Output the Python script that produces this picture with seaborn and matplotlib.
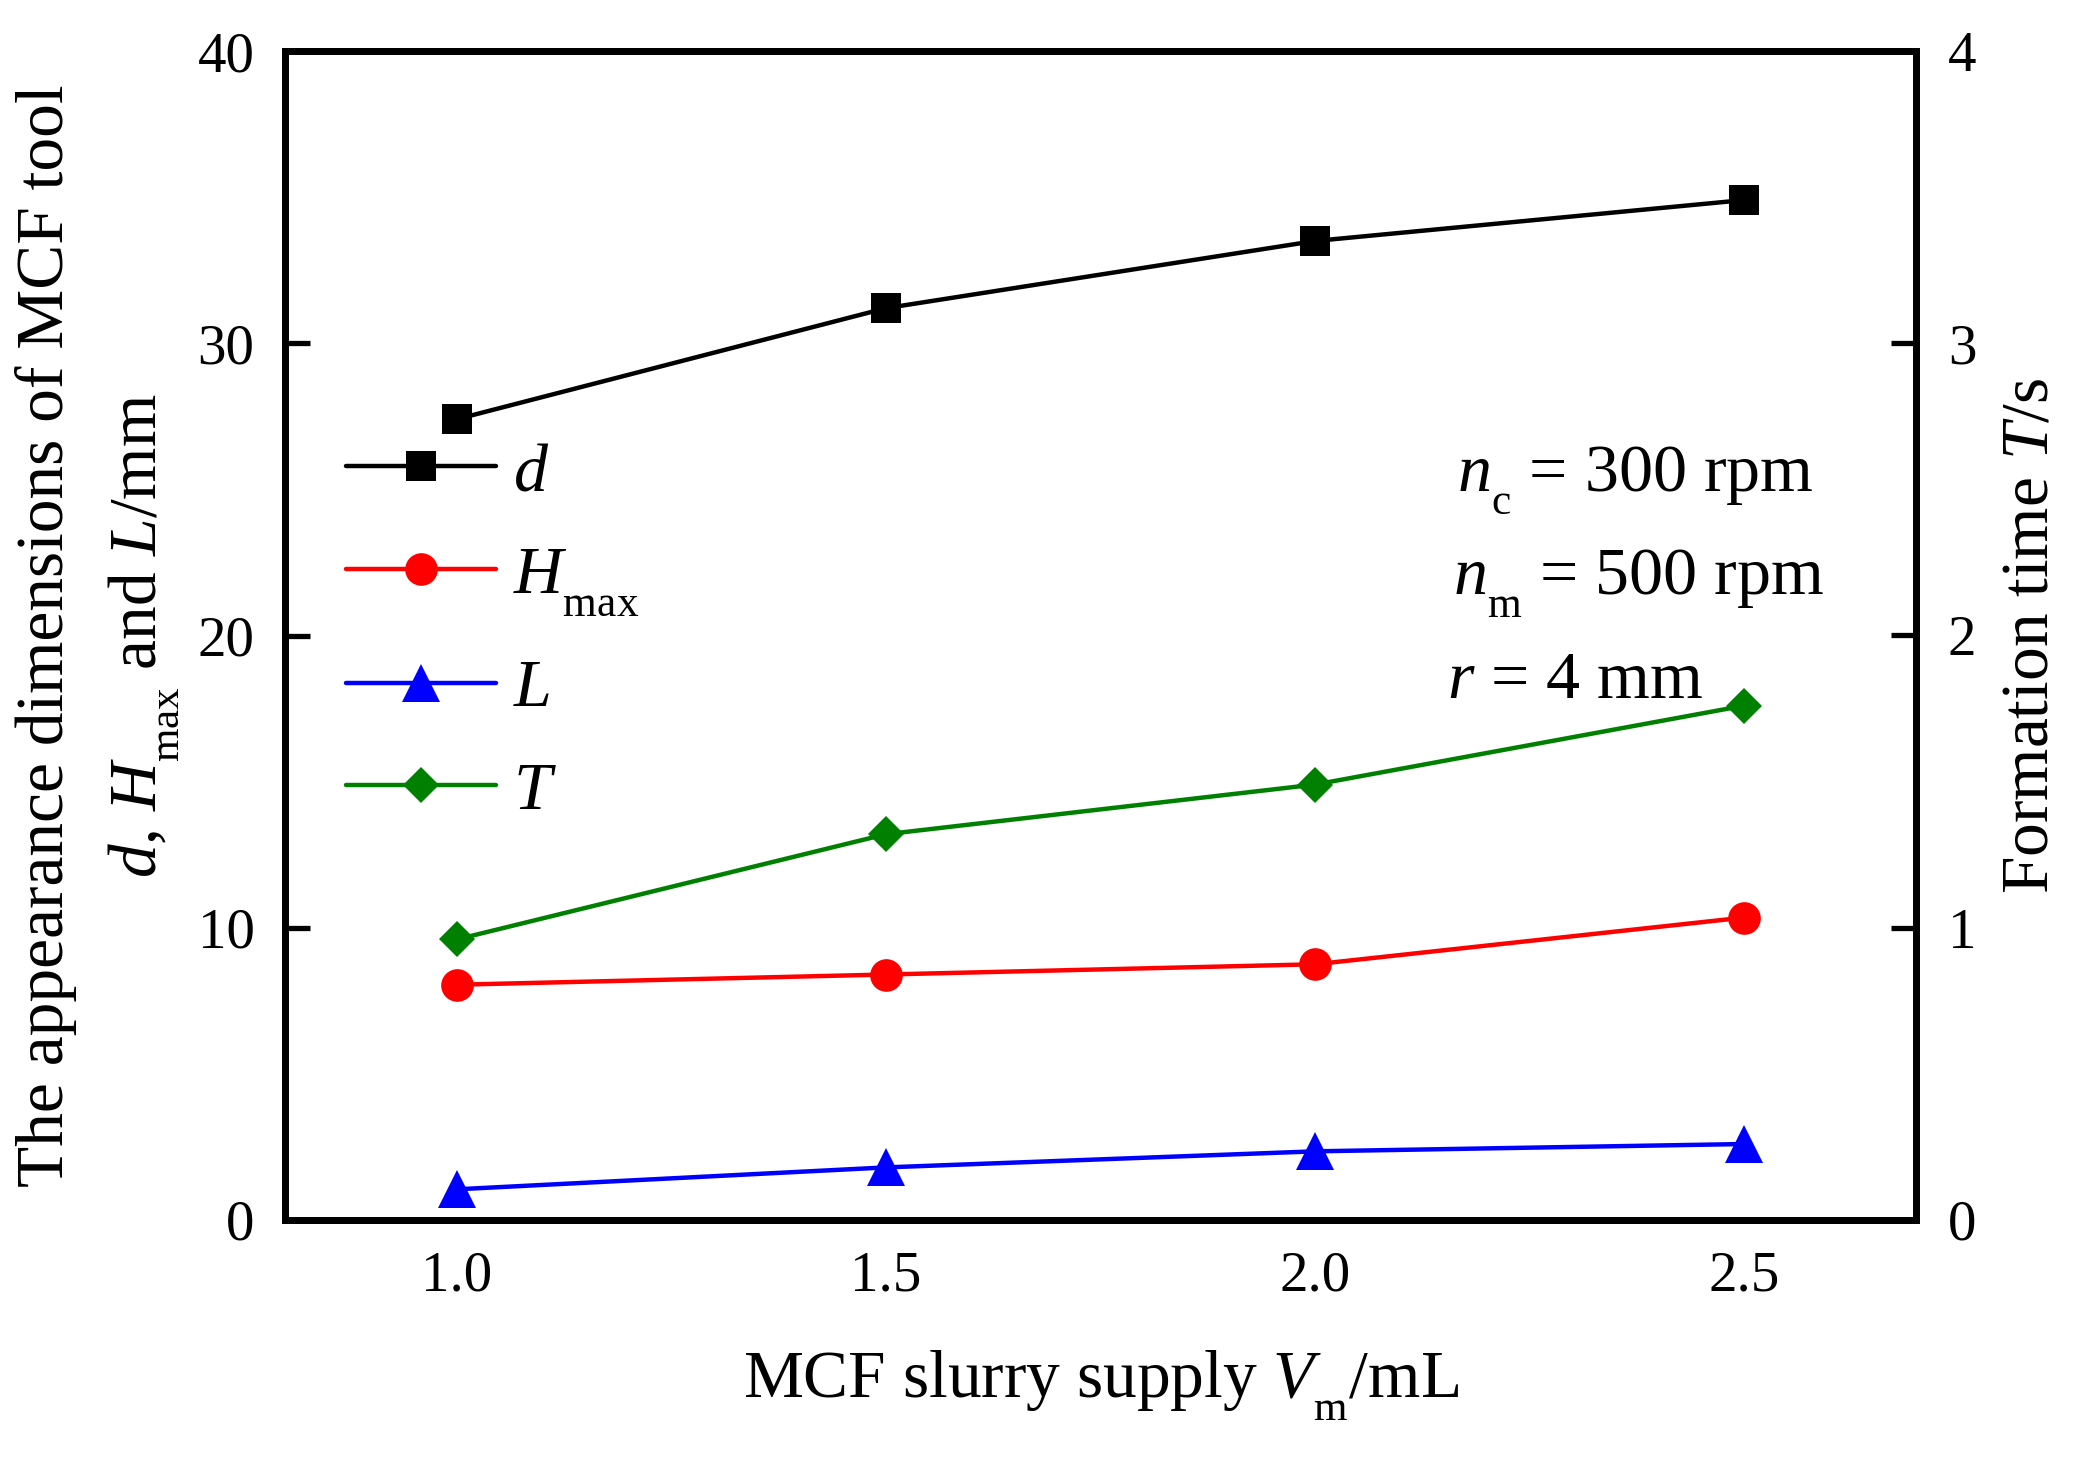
import matplotlib
matplotlib.use("Agg")
import matplotlib.pyplot as plt
import seaborn as sns
import pandas as pd
from matplotlib.lines import Line2D

# subscripts in the reference are smaller and sit lower than mathtext defaults
try:
    import matplotlib._mathtext as _mt
    _mt.FontConstantsBase.sub1 = 0.75
    _mt.SHRINK_FACTOR = 0.64
except Exception:
    pass

sns.set_theme(style="white")
plt.rcParams['font.family'] = ['Liberation Serif', 'DejaVu Serif']
plt.rcParams['mathtext.fontset'] = 'custom'
plt.rcParams['mathtext.rm'] = 'Liberation Serif'
plt.rcParams['mathtext.it'] = 'Liberation Serif:italic'
plt.rcParams['mathtext.bf'] = 'Liberation Serif:bold'
for k in ('text.color', 'axes.labelcolor', 'xtick.color', 'ytick.color', 'axes.edgecolor'):
    plt.rcParams[k] = 'black'

# data
supply = [1.0, 1.5, 2.0, 2.5]
d_vals = [27.4, 31.2, 33.5, 34.9]
hmax_vals = [8.05, 8.4, 8.75, 10.35]
l_vals = [1.05, 1.8, 2.35, 2.6]
t_vals = [0.96, 1.32, 1.49, 1.76]

x_ticks = [1.0, 1.5, 2.0, 2.5]
y_left_ticks = [0, 10, 20, 30, 40]
y_right_ticks = [0, 1, 2, 3, 4]

df = pd.DataFrame({"x": supply, "d": d_vals, "H": hmax_vals, "L": l_vals, "T": t_vals})

W, H = 2092, 1463
dpi = 100
fig = plt.figure(figsize=(W / dpi, H / dpi), dpi=dpi)
ax = fig.add_axes([285 / W, 1 - 1220 / H, (1916 - 285) / W, (1220 - 51) / H])
ax2 = ax.twinx()

lw = 3.2
styles = {
    "d": dict(color="black", marker="s", markersize=22),
    "H": dict(color="#ff0000", marker="o", markersize=23.5),
    "L": dict(color="#0000ff", marker="^", markersize=27.5),
    "T": dict(color="#008000", marker="D", markersize=18.5),
}
for key, a in (("d", ax), ("H", ax), ("L", ax), ("T", ax2)):
    sns.lineplot(data=df, x="x", y=key, ax=a, markeredgewidth=0, linewidth=lw, **styles[key])

ax.set_xlim(0.8, 2.7)
ax.set_ylim(0, 40)
ax2.set_ylim(0, 4)
ax.set_xticks(x_ticks)
ax.set_xticklabels([f"{v:.1f}" for v in x_ticks])
ax.set_yticks(y_left_ticks)
ax2.set_yticks(y_right_ticks)

tick_fs = 41
label_fs = 48.5
for a in (ax, ax2):
    for s in a.spines.values():
        s.set_linewidth(5)
        s.set_color("black")
ax.tick_params(axis="both", direction="in", length=18, width=3.8, labelsize=tick_fs,
               colors="black", pad=22, top=False, right=False)
ax.tick_params(axis="x", pad=22)
ax2.tick_params(axis="y", direction="in", length=18, width=3.8, labelsize=tick_fs,
                colors="black", pad=23)

ax.set_xlabel(r"MCF slurry supply $V_{\mathrm{m}}$/mL", fontsize=label_fs, labelpad=33)
ax.set_ylabel("The appearance dimensions of MCF tool\n" + r"$d$, $H_{\mathrm{max}}$ and $L$/mm",
              fontsize=label_fs, labelpad=12, linespacing=1.6)
ax2.set_ylabel(r"Formation time $T$/s", fontsize=label_fs, labelpad=17)

handles = [Line2D([], [], markeredgewidth=0, linewidth=lw, **styles[k]) for k in ("d", "H", "L", "T")]
labels = [r"$d$", r"$H_{\mathrm{max}}$", r"$L$", r"$T$"]
ax.legend(handles, labels, loc="upper left", bbox_to_anchor=(0.0374, 0.665), frameon=False,
          fontsize=49, handlelength=2.2, labelspacing=0.6, handletextpad=0.26,
          borderpad=0, borderaxespad=0)

ann_fs = 49
ax.text(0.7186, 0.6236, r"$n_{\mathrm{c}}$ = 300 rpm", transform=ax.transAxes,
        fontsize=ann_fs, va="baseline", ha="left")
ax.text(0.716, 0.5346, r"$n_{\mathrm{m}}$ = 500 rpm", transform=ax.transAxes,
        fontsize=ann_fs, va="baseline", ha="left")
ax.text(0.7124, 0.4465, r"$r$ = 4 mm", transform=ax.transAxes,
        fontsize=ann_fs, va="baseline", ha="left")

fig.savefig("out.png", dpi=dpi)
